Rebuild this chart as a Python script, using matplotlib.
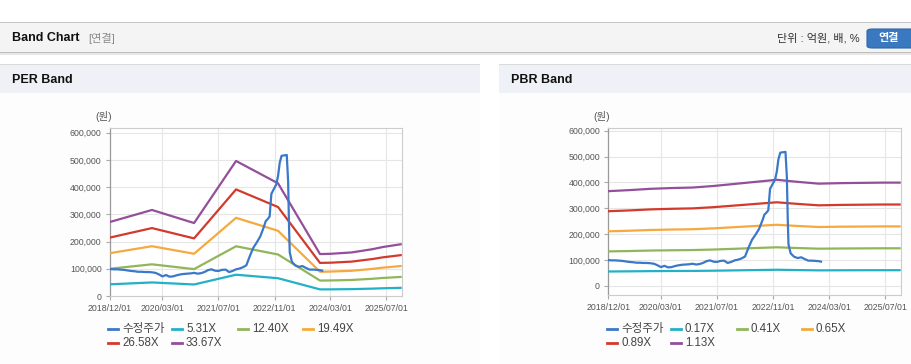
import matplotlib
matplotlib.use('Agg')
import matplotlib.pyplot as plt
from matplotlib.patches import Rectangle, FancyBboxPatch
from matplotlib.lines import Line2D
import pandas as pd

plt.rcParams['font.family'] = ['Liberation Sans', 'Noto Sans CJK KR', 'DejaVu Sans']

# ---------------- data ----------------
price_dates = [
    "2018-12-01", "2019-01-01", "2019-02-01", "2019-03-01", "2019-04-01", "2019-05-01",
    "2019-06-01", "2019-07-01", "2019-08-01", "2019-09-01", "2019-10-01", "2019-11-01",
    "2019-12-01", "2020-01-01", "2020-02-01", "2020-03-01", "2020-04-01", "2020-05-01",
    "2020-06-01", "2020-07-01", "2020-08-01", "2020-09-01", "2020-10-01", "2020-11-01",
    "2020-12-01", "2021-01-01", "2021-02-01", "2021-03-01", "2021-04-01", "2021-05-01",
    "2021-06-01", "2021-07-01", "2021-08-01", "2021-09-01", "2021-10-01", "2021-11-01",
    "2021-12-01", "2022-01-01", "2022-02-01", "2022-03-01", "2022-04-01", "2022-05-01",
    "2022-06-01", "2022-07-01", "2022-08-01", "2022-08-16", "2022-09-01", "2022-09-19",
    "2022-10-04", "2022-10-22", "2022-11-16", "2022-12-01", "2022-12-16", "2023-01-01",
    "2023-02-15", "2023-02-27", "2023-03-07", "2023-03-13", "2023-04-01", "2023-05-01",
    "2023-06-01", "2023-07-01", "2023-08-01", "2023-09-01", "2023-10-01", "2023-11-01",
    "2023-12-01", "2023-12-20",
]
price_vals = [
    99000, 98000, 98000, 97000, 96000, 94000,
    92000, 91000, 89000, 89000, 88000, 88000,
    87000, 85000, 79000, 72000, 77000, 71000,
    72000, 76000, 79000, 81000, 82000, 83000,
    85000, 82000, 84000, 88000, 95000, 98000,
    93000, 92000, 96000, 97000, 88000, 92000,
    98000, 101000, 106000, 113000, 148000, 178000,
    198000, 220000, 255000, 275000, 282000, 292000,
    375000, 390000, 410000, 440000, 490000, 515000,
    518000, 420000, 250000, 160000, 125000, 112000,
    107000, 110000, 103000, 97000, 97000, 96000,
    95000, 93000,
]

per_dates = ["2018-12-01", "2019-12-01", "2020-12-01", "2021-12-01", "2022-12-01",
             "2023-12-01", "2024-03-01", "2024-09-01", "2025-03-01", "2025-06-01", "2025-11-01"]
per_labels = ["수정주가", "5.31X", "12.40X", "19.49X", "26.58X", "33.67X"]
per_5_31 = [42900, 49800, 42300, 78200, 65300, 24300, 24400, 25200, 27100, 28400, 30000]
per_12_40 = [100200, 116400, 98700, 182700, 152500, 56700, 57100, 58900, 63300, 66300, 70000]
per_19_49 = [157400, 182900, 155100, 287100, 239600, 89100, 89700, 92600, 99600, 104200, 110000]
per_26_58 = [214700, 249500, 211600, 391500, 326800, 121600, 122300, 126300, 135800, 142100, 150000]
per_33_67 = [272000, 316000, 268000, 496000, 414000, 154000, 155000, 160000, 172000, 180000, 190000]

pbr_dates = ["2018-12-01", "2019-06-01", "2019-12-01", "2020-06-01", "2020-12-01",
             "2021-06-01", "2021-12-01", "2022-06-01", "2022-12-01", "2023-06-01",
             "2023-12-01", "2024-06-01", "2024-12-01", "2025-06-01", "2025-11-01"]
pbr_labels = ["수정주가", "0.17X", "0.41X", "0.65X", "0.89X", "1.13X"]
pbr_0_17 = [55000, 55600, 56400, 56900, 57200, 58100, 59300, 60500, 61700, 60500,
            59400, 59700, 59900, 60000, 60000]
pbr_0_41 = [132800, 134200, 136100, 137100, 137900, 140000, 142900, 145800, 148700, 145800,
            143300, 144000, 144400, 144800, 144800]
pbr_0_65 = [210500, 212800, 215700, 217400, 218600, 222000, 226600, 231200, 235800, 231200,
            227200, 228400, 228900, 229500, 229500]
pbr_0_89 = [288300, 291400, 295400, 297700, 299300, 304000, 310300, 316600, 322900, 316600,
            311100, 312700, 313500, 314300, 314300]
pbr_1_13 = [366000, 370000, 375000, 378000, 380000, 386000, 394000, 402000, 410000, 402000,
            395000, 397000, 398000, 399000, 399000]

x_ticks = ["2018-12-01", "2020-03-01", "2021-07-01", "2022-11-01", "2024-03-01", "2025-07-01"]
y_ticks = [0, 100000, 200000, 300000, 400000, 500000, 600000]

colors = ['#3a78c9', '#22b1c6', '#91b65a', '#f5a93f', '#d33a2c', '#944f9b']

# ---------------- figure ----------------
W, H = 912, 364
fig = plt.figure(figsize=(W / 100, H / 100), dpi=100)
fig.patch.set_facecolor('white')


def fx(x):
    return x / W


def fy(y):
    return 1 - y / H


def rect(x0, y0, x1, y1, color, z=-10):
    fig.patches.append(Rectangle((fx(x0), fy(y1)), fx(x1) - fx(x0), fy(y0) - fy(y1),
                                 transform=fig.transFigure, facecolor=color,
                                 edgecolor='none', zorder=z))


# top header band
rect(0, 22, W, 23, '#c6c6c6')
rect(0, 23, W, 52, '#f4f4f4')
rect(0, 52, W, 53, '#bdbdbd')
rect(0, 53, W, 55, '#e8e8e8')
fig.text(fx(12), fy(38), "Band Chart", fontsize=9, fontweight='bold', color='#111111',
         va='center', ha='left')
fig.text(fx(88), fy(38), "[연결]", fontsize=8, color='#8a8a8a', va='center', ha='left')
fig.text(fx(860), fy(38), "단위 : 억원, 배, %", fontsize=8, color='#333333', va='center',
         ha='right')
btn = FancyBboxPatch((fx(867), fy(48)), fx(60), fy(29) - fy(48),
                     boxstyle="round,pad=0,rounding_size=0.006",
                     transform=fig.transFigure, facecolor='#3a78c0', edgecolor='#2f66a8',
                     linewidth=0.8, zorder=1)
fig.patches.append(btn)
fig.text(fx(889), fy(38.5), "연결", fontsize=8, fontweight='bold', color='white',
         va='center', ha='center', zorder=2)

# panel headers
for x0, x1, title in [(0, 480, "PER Band"), (499, W, "PBR Band")]:
    rect(x0, 64, x1, 65, '#dadada')
    rect(x0, 65, x1, 93, '#eef2f6')
    rect(x0, 93, x1, H, '#fdfdfd')
    fig.text(fx(x0 + 12), fy(80), title, fontsize=9, fontweight='bold', color='#111111',
             va='center', ha='left')


def style_axes(ax, ylim):
    ax.set_facecolor('white')
    ax.set_xlim(pd.Timestamp("2018-12-01"), pd.Timestamp("2025-11-13"))
    ax.set_ylim(*ylim)
    ax.set_xticks(pd.to_datetime(x_ticks))
    ax.set_xticklabels([d.replace('-', '/') for d in x_ticks])
    ax.set_yticks(y_ticks)
    ax.set_yticklabels([f"{v:,}" for v in y_ticks])
    ax.tick_params(axis='both', direction='out', length=3, width=0.8, color='#aaaaaa',
                   labelsize=6.3, labelcolor='#555555', pad=3)
    ax.grid(True, color='#e6e6e6', linewidth=0.8)
    ax.set_axisbelow(True)
    for s in ['top', 'right', 'bottom']:
        ax.spines[s].set_color('#cccccc')
        ax.spines[s].set_linewidth(0.8)
    ax.spines['left'].set_color('#9a9a9a')
    ax.spines['left'].set_linewidth(0.9)


def legend(lines, labels, x0):
    cols = [x0, x0 + 64, x0 + 130, x0 + 195]
    rows = [329, 343]
    for i, (ln, lab) in enumerate(zip(lines, labels)):
        r, c = divmod(i, 4)
        x, y = cols[c], rows[r]
        fig.lines.append(Line2D([fx(x), fx(x + 10)], [fy(y), fy(y)], transform=fig.transFigure,
                                color=ln.get_color(), linewidth=2))
        fig.text(fx(x + 14), fy(y), lab, fontsize=8.3, color='#444444', va='center',
                 ha='left')


# PER chart
ax1 = fig.add_axes([fx(110), fy(296), fx(402) - fx(110), fy(128.3) - fy(296)])
style_axes(ax1, (0, 616000))
pd_per = pd.to_datetime(per_dates)
pd_price = pd.to_datetime(price_dates)
l0, = ax1.plot(pd_price, price_vals, color=colors[0], lw=1.6, zorder=4)
lines1 = [l0]
for vals, c in zip([per_5_31, per_12_40, per_19_49, per_26_58, per_33_67], colors[1:]):
    ln, = ax1.plot(pd_per, vals, color=c, lw=1.6, zorder=3)
    lines1.append(ln)
fig.text(fx(104), fy(117), "(원)", fontsize=7.5, color='#555555', va='center', ha='center')
legend(lines1, per_labels, 108)

# PBR chart
ax2 = fig.add_axes([fx(608.3), fy(295), fx(901) - fx(608.3), fy(128.3) - fy(295)])
style_axes(ax2, (-36000, 609300))
pd_pbr = pd.to_datetime(pbr_dates)
m0, = ax2.plot(pd_price, price_vals, color=colors[0], lw=1.6, zorder=4)
lines2 = [m0]
for vals, c in zip([pbr_0_17, pbr_0_41, pbr_0_65, pbr_0_89, pbr_1_13], colors[1:]):
    ln, = ax2.plot(pd_pbr, vals, color=c, lw=1.6, zorder=3)
    lines2.append(ln)
fig.text(fx(602), fy(117), "(원)", fontsize=7.5, color='#555555', va='center', ha='center')
legend(lines2, pbr_labels, 607)

fig.savefig("out.png", dpi=100, facecolor=fig.get_facecolor())
